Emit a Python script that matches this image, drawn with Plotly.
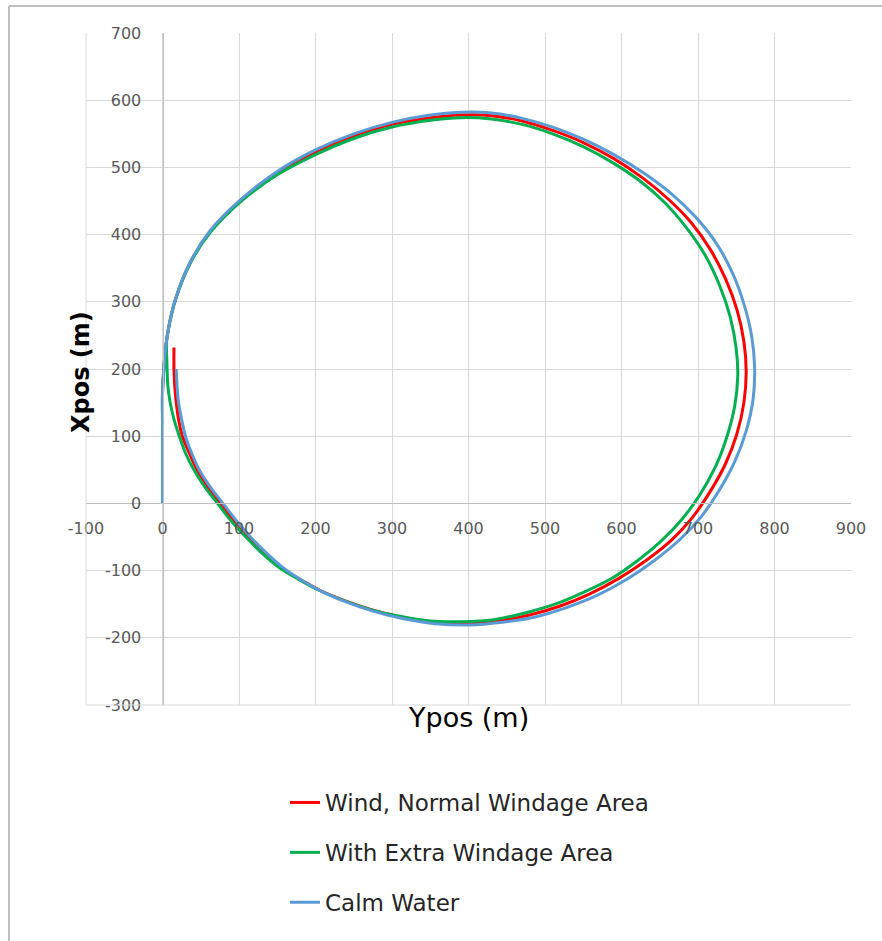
import plotly.graph_objects as go

# Turning-circle trajectories: Ypos (horizontal) and Xpos (vertical) in metres
wind_normal_y = [0, 0, 0, 0, 1, 3, 7, 17, 37, 63, 100, 150, 200, 250, 300, 350, 390, 430, 470,
                 510, 550, 590, 628, 661, 691, 716, 736, 751, 760, 763, 760, 751, 736, 715, 692,
                 665, 632, 596, 558, 519, 480, 439, 398, 356, 312, 273, 239, 207, 180, 155, 133,
                 112, 93, 76, 59, 45, 35, 26, 21, 18, 16, 15, 15]
wind_normal_x = [0, 60, 120, 165, 188, 218, 255, 304, 360, 406, 449, 492, 523, 547, 564, 574, 578,
                 577, 569, 555, 537, 513, 484, 453, 418, 378, 334, 288, 241, 196, 150, 104, 59,
                 16, -22, -55, -85, -112, -135, -153, -166, -175, -179, -177, -169, -158, -145,
                 -130, -113, -96, -74, -50, -25, 0, 25, 50, 75, 100, 125, 150, 175, 200, 232]

extra_windage_y = [0, 0, 0, 0, 1, 3, 7, 17, 37, 63, 100, 150, 200, 250, 300, 350, 390, 430, 470,
                   510, 550, 590, 625, 657, 685, 709, 728, 742, 750, 752, 748, 738, 723, 702, 678,
                   651, 620, 588, 551, 513, 474, 433, 391, 350, 310, 272, 238, 206, 178, 152, 130,
                   109, 89, 72, 55, 41, 30, 22, 15, 10, 7, 6, 5]
extra_windage_x = [0, 60, 120, 165, 188, 218, 255, 303, 359, 404, 447, 489, 519, 543, 560, 570, 574,
                   572, 564, 550, 531, 506, 479, 447, 410, 370, 325, 278, 230, 190, 145, 100, 55,
                   12, -25, -57, -86, -111, -132, -150, -163, -173, -176, -175, -168, -158, -145,
                   -130, -113, -95, -74, -50, -25, 0, 25, 50, 75, 100, 125, 150, 175, 200, 240]

calm_water_y = [0, 0, 0, 0, 1, 3, 7, 17, 37, 63, 100, 150, 200, 250, 300, 350, 390, 430, 470,
                510, 550, 590, 630, 665, 697, 724, 745, 760, 770, 774, 772, 763, 748, 727, 704,
                677, 643, 607, 568, 528, 487, 444, 400, 356, 312, 274, 241, 210, 183, 158, 136,
                115, 96, 79, 62, 48, 38, 30, 25, 21, 19, 18]
calm_water_x = [0, 60, 120, 165, 188, 218, 255, 304, 361, 407, 450, 494, 526, 550, 567, 578, 582,
                581, 573, 560, 542, 519, 491, 461, 426, 387, 343, 297, 250, 203, 155, 108, 62,
                18, -20, -53, -85, -113, -137, -155, -169, -177, -181, -179, -171, -160, -147,
                -132, -115, -96, -74, -50, -25, 0, 25, 50, 75, 100, 125, 150, 175, 200]

series = [
    ("Wind, Normal Windage Area", wind_normal_y, wind_normal_x, "#FF0000"),
    ("With Extra Windage Area", extra_windage_y, extra_windage_x, "#00B050"),
    ("Calm Water", calm_water_y, calm_water_x, "#5B9BD5"),
]

x_ticks = list(range(-100, 901, 100))
y_ticks = list(range(-300, 701, 100))

FONT = "DejaVu Sans, sans-serif"

# Plot area in pixels: left 86, right 851, top 33, bottom 705
PL, PR, PT, PB = 86, 851, 33, 705
PW, PH = PR - PL, PB - PT


def px(x):
    return (x - PL) / PW


def py(y):
    return (PB - y) / PH


fig = go.Figure()
for i, (name, xs, ys, color) in enumerate(series):
    fig.add_trace(go.Scatter(
        x=xs, y=ys, name=name, mode="lines",
        line=dict(color=color, width=3, shape="spline", smoothing=1.0),
        legendgroup=f"g{i}",
    ))

fig.update_layout(
    width=882, height=941,
    paper_bgcolor="white", plot_bgcolor="white",
    margin=dict(l=PL, r=882 - PR, t=PT, b=941 - PB),
    font=dict(family=FONT, color="#595959"),
    xaxis=dict(
        range=[-100, 900], tickvals=x_ticks, ticktext=[str(v) for v in x_ticks],
        showgrid=True, gridcolor="#D9D9D9", gridwidth=1,
        zeroline=False, showline=True, linecolor="#BFBFBF", linewidth=1,
        anchor="free", position=0.3, ticks="", ticklabelstandoff=10,
        tickfont=dict(size=16, color="#595959", family=FONT),
        fixedrange=True,
    ),
    yaxis=dict(
        range=[-300, 700], tickvals=y_ticks, ticktext=[str(v) for v in y_ticks],
        showgrid=True, gridcolor="#D9D9D9", gridwidth=1,
        zeroline=False, showline=True, linecolor="#BFBFBF", linewidth=1,
        anchor="free", position=0.1, ticks="", ticklabelstandoff=18,
        tickfont=dict(size=16, color="#595959", family=FONT),
        fixedrange=True,
    ),
    legend=dict(
        orientation="v", x=px(285), y=py(781), xanchor="left", yanchor="top",
        font=dict(size=23, color="#262626", family=FONT),
        tracegroupgap=17, bgcolor="rgba(0,0,0,0)",
    ),
    showlegend=True,
)

# Axis titles
fig.add_annotation(text="Ypos (m)", xref="paper", yref="paper", x=px(468), y=py(735),
                   showarrow=False, font=dict(size=27, color="#000000", family=FONT))
fig.add_annotation(text="<b>Xpos (m)</b>", xref="paper", yref="paper", x=px(65), y=py(372),
                   showarrow=False, textangle=-90,
                   font=dict(size=24, color="#000000", family=FONT))

# Plot-area border (left and bottom) and the outer frame edges
fig.add_shape(type="line", xref="paper", yref="paper", x0=0, x1=1, y0=0, y1=0,
              line=dict(color="#D9D9D9", width=1))
fig.add_shape(type="line", xref="paper", yref="paper", x0=0, x1=0, y0=0, y1=1,
              line=dict(color="#D9D9D9", width=1))
fig.add_shape(type="line", xref="paper", yref="paper", x0=px(9), x1=px(9),
              y0=py(941), y1=py(6), line=dict(color="#BFBFBF", width=2))
fig.add_shape(type="line", xref="paper", yref="paper", x0=px(9), x1=px(882),
              y0=py(6), y1=py(6), line=dict(color="#BFBFBF", width=2))

fig.write_html("out.html")
